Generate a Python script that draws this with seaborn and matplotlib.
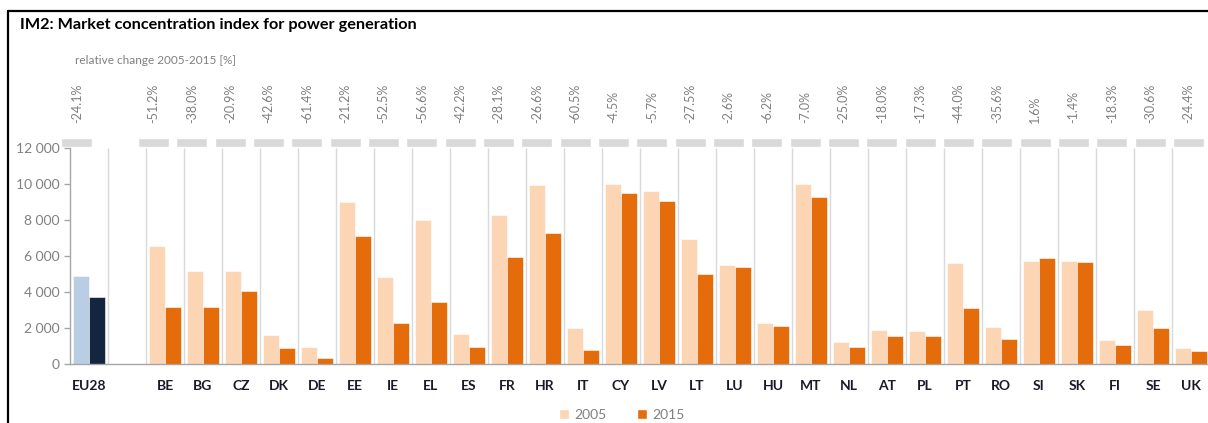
import numpy as np
import pandas as pd
import seaborn as sns
import matplotlib.pyplot as plt
from matplotlib.lines import Line2D
from matplotlib.patches import Patch
from matplotlib.ticker import FuncFormatter

# %%
countries = ['EU28', 'BE', 'BG', 'CZ', 'DK', 'DE', 'EE', 'IE', 'EL', 'ES', 'FR', 'HR',
             'IT', 'CY', 'LV', 'LT', 'LU', 'HU', 'MT', 'NL', 'AT', 'PL', 'PT', 'RO',
             'SI', 'SK', 'FI', 'SE', 'UK']
hhi_2005 = [4900, 6570, 5150, 5150, 1630, 960, 9030, 4850, 8020, 1680, 8260, 9940,
            2030, 10000, 9630, 6960, 5520, 2290, 10000, 1260, 1900, 1850, 5630, 2090,
            5740, 5740, 1330, 3000, 900]
hhi_2015 = [3720, 3170, 3170, 4070, 890, 370, 7130, 2280, 3480, 960, 5940, 7310,
            800, 9520, 9050, 5030, 5390, 2120, 9280, 960, 1560, 1560, 3110, 1390,
            5870, 5680, 1090, 2030, 740]
rel_change = [-24.1, -51.2, -38.0, -20.9, -42.6, -61.4, -21.2, -52.5, -56.6, -42.2,
              -28.1, -26.6, -60.5, -4.5, -5.7, -27.5, -2.6, -6.2, -7.0, -25.0, -18.0,
              -17.3, -44.0, -35.6, 1.6, -1.4, -18.3, -30.6, -24.4]
years = ['2005', '2015']

# empty slot between EU28 and the member states
order = ['EU28', ' '] + countries[1:]

df = pd.DataFrame({
    'country': countries * 2,
    'value': hhi_2005 + hhi_2015,
    'year': ['2005'] * len(countries) + ['2015'] * len(countries),
})

# %%
c05, c15 = '#FCD5B5', '#E46C0A'
eu05, eu15 = '#B9CDE5', '#14263F'
grey_txt = '#808080'

sns.set_style('white')
plt.rcParams['font.family'] = ['Lato', 'DejaVu Sans']

fig = plt.figure(figsize=(12.08, 4.23), dpi=100)
ax = fig.add_axes([70 / 1208, 0.1388, 1140 / 1208, 0.5113])

sns.barplot(data=df, x='country', y='value', hue='year', order=order,
            hue_order=years, palette=[c05, c15], saturation=1, width=0.84, gap=0,
            edgecolor='white', linewidth=0.4, legend=False, ax=ax)

# EU28 in blue tones
for cont, col in zip(ax.containers, [eu05, eu15]):
    bar = min(cont, key=lambda b: b.get_x())
    bar.set_facecolor(col)

ax.set_xlim(-0.5, len(order) - 0.5)
ax.set_ylim(0, 12000)
ax.set_yticks(np.arange(0, 12001, 2000))
ax.yaxis.set_major_formatter(FuncFormatter(lambda v, p: f'{int(v):,}'.replace(',', ' ')))
ax.set_xlabel('')
ax.set_ylabel('')

bounds = np.arange(len(order) + 1) - 0.5
ax.vlines(bounds[1:-1], 0, 12000, color='#d9d9d9', lw=1, zorder=0)
ax.set_xticks(bounds, minor=True)
ax.tick_params(axis='x', which='major', length=0, pad=11)
ax.tick_params(axis='x', which='minor', length=4, color='#a6a6a6', width=1, direction='out')
ax.tick_params(axis='y', length=4, color='#a6a6a6', width=1, direction='out',
               labelcolor=grey_txt, labelsize=10, left=True)
for lab in ax.get_xticklabels():
    lab.set_fontweight('bold')
    lab.set_fontsize(10)
    lab.set_color('#1a1a2a')

for s in ['top', 'right']:
    ax.spines[s].set_visible(False)
for s in ['left', 'bottom']:
    ax.spines[s].set_color('#a6a6a6')
    ax.spines[s].set_linewidth(1)

# %%
# strip with relative change labels
strip = fig.add_axes([57.8 / 1208, 0.6525, 1150 / 1208, 0.0213])
strip.set_xlim(-0.5, len(order) - 0.5)
strip.set_ylim(0, 1)
strip.axis('off')
pos = [order.index(c) for c in countries]
strip.bar(pos, [1] * len(pos), width=0.81, color='#d9d9d9', align='center')
for p, r in zip(pos, rel_change):
    strip.text(p, 2.65, f'{r:.1f}%', rotation=90, ha='center', va='bottom',
               fontsize=9, color=grey_txt, clip_on=False)

fig.text(75 / 1208, 1 - 61 / 423, 'relative change 2005-2015 [%]', fontsize=8.5,
         color=grey_txt, va='center', ha='left')

# %%
fig.text(20 / 1208, 1 - 25 / 423, 'IM2: Market concentration index for power generation',
         fontsize=11.7, fontweight='bold', color='black', va='center', ha='left')

handles = [Patch(facecolor=c05, label='2005'), Patch(facecolor=c15, label='2015')]
leg = fig.legend(handles=handles, loc='center', bbox_to_anchor=(622 / 1208, 1 - 415 / 423),
                 ncol=2, frameon=False, fontsize=10, handlelength=0.7, handleheight=0.7,
                 handletextpad=0.4, columnspacing=2.2)
for t in leg.get_texts():
    t.set_color(grey_txt)

# outer frame
fig.add_artist(Line2D([8 / 1208, 1], [1 - 11 / 423] * 2, color='black', lw=1.6,
                      transform=fig.transFigure))
fig.add_artist(Line2D([8 / 1208] * 2, [0, 1 - 11 / 423], color='black', lw=1.6,
                      transform=fig.transFigure))

plt.savefig('out.png', dpi=100)
